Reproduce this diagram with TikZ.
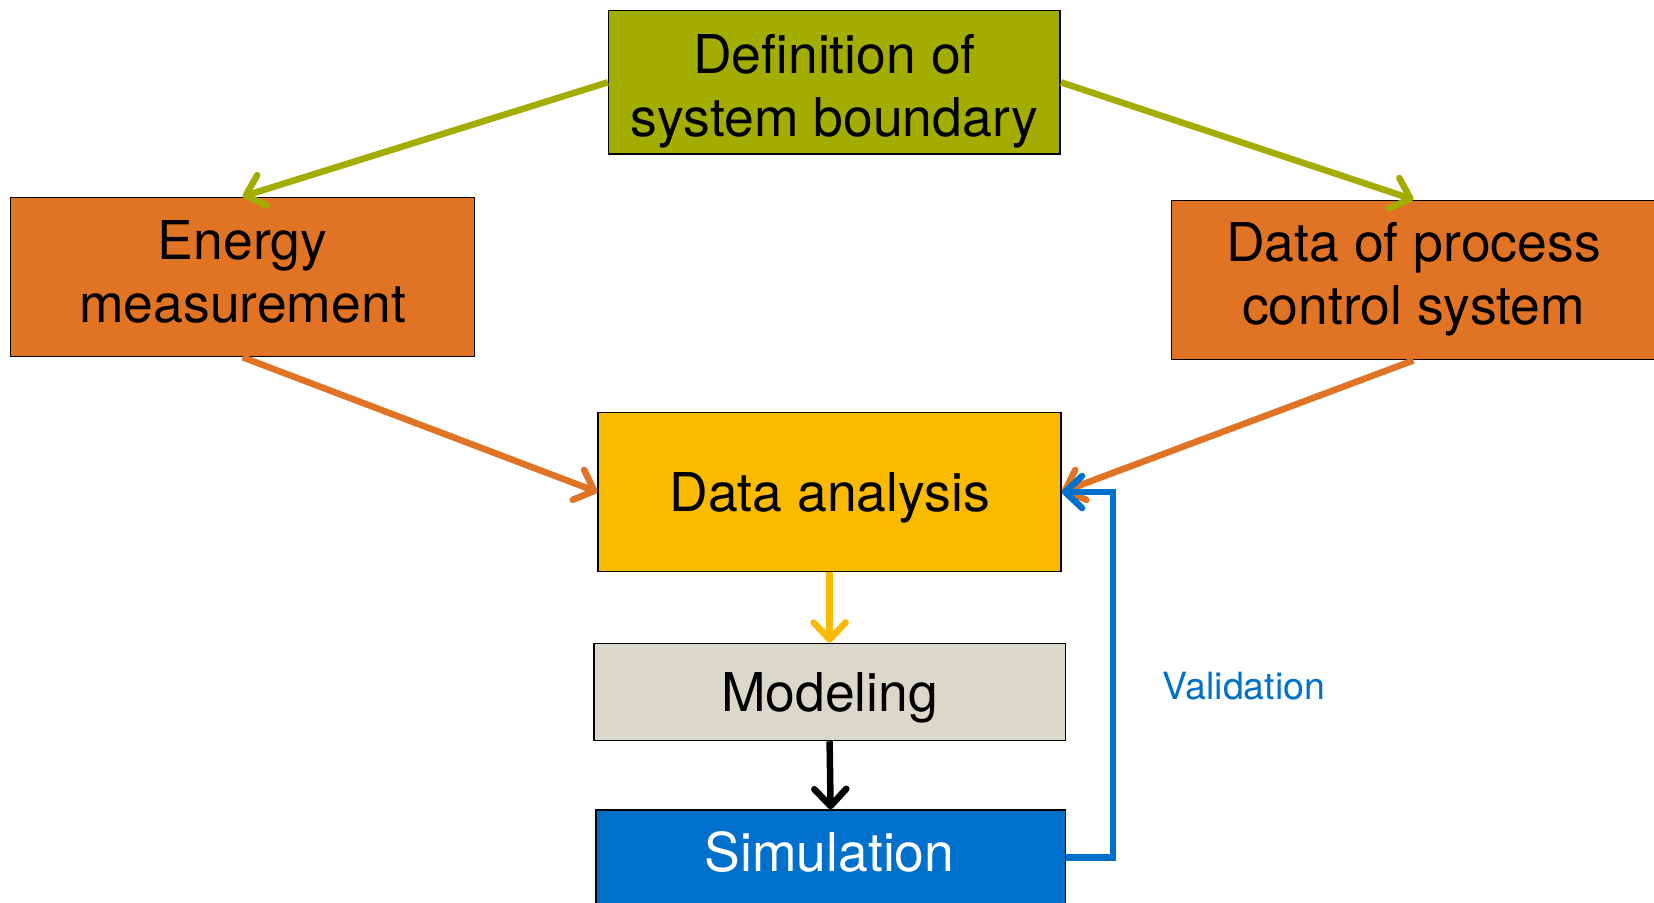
\documentclass[tikz,border=0pt]{standalone}
\usepackage{fontspec}
\setmainfont{TeX Gyre Heros}
\usetikzlibrary{arrows.meta}
\definecolor{olive}{HTML}{A2AD00}
\definecolor{orng}{HTML}{E17325}
\definecolor{yel}{HTML}{F9BA00}
\definecolor{gry}{HTML}{DAD8CB}
\definecolor{blu}{HTML}{0070CD}
\newcommand{\tl}[2]{\raisebox{#1}[\height][\depth]{\begin{tabular}{@{}c@{}}#2\end{tabular}}}
\tikzset{
  box/.style={draw=black, line width=1.5pt, inner sep=0pt, align=center,
    font=\fontsize{53.5}{63}\selectfont, text=black},
  conn/.style={line width=6.5pt, -{Straight Barb[length=17pt,width=32pt,line cap=round,line join=round]}},
}
\begin{document}
\begin{tikzpicture}[x=1pt,y=-1pt]
\useasboundingbox (0,0) rectangle (1654,902);
\node[box, fill=olive, minimum width=451.5pt, minimum height=143.5pt] (def) at (834.4,82.3) {\tl{-10pt}{Definition of\\system boundary}};
\node[box, fill=orng, minimum width=464.2pt, minimum height=159.3pt] (en) at (242.6,276.9) {\tl{-1.5pt}{Energy\\measurement}};
\node[box, fill=orng, minimum width=484pt, minimum height=159.3pt] (dp) at (1413.5,280) {\tl{0pt}{Data of process\\control system}};
\node[box, fill=yel, minimum width=463pt, minimum height=159.3pt] (da) at (829.6,492) {\tl{-6.5pt}{Data analysis}};
\node[box, fill=gry, minimum width=471.4pt, minimum height=97pt] (mo) at (829.6,692) {\tl{-6.5pt}{Modeling}};
\node[box, fill=blu, minimum width=469.3pt, minimum height=100pt] (si) at (830.6,860) {};
\node[font=\fontsize{53.5}{63}\selectfont, text=white] (sit) at (829.6,852) {Simulation};
\node[font=\fontsize{37.5}{40}\selectfont, text=blu] (val) at (1244,686) {Validation};
\coordinate (vr) at (1112.8,857.6);
\draw[conn, draw=olive] (def.west) -- (en.north);
\draw[conn, draw=olive] (def.east) -- (dp.north);
\draw[conn, draw=orng] (en.south) -- (da.west);
\draw[conn, draw=orng] (dp.south) -- (da.east);
\draw[conn, draw=yel] (da.south) -- (mo.north);
\draw[conn, draw=black] (mo.south) -- (si.north);
\draw[conn, draw=blu] (si.east |- vr) -- (vr) |- (da.east);
\end{tikzpicture}
\end{document}
